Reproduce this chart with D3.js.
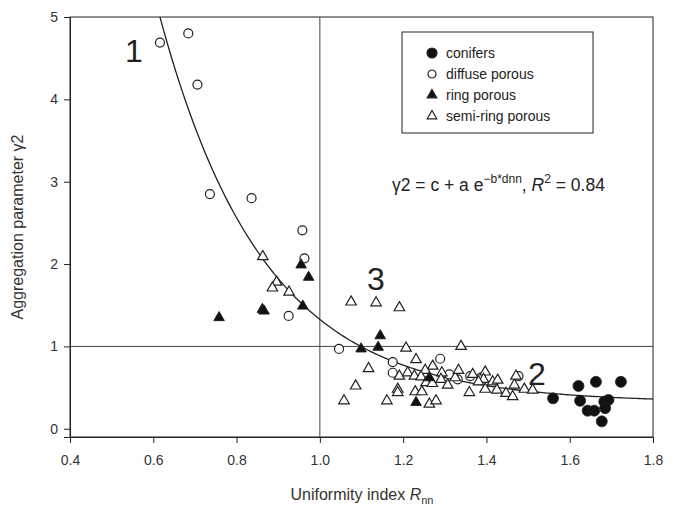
<!DOCTYPE html>
<html>
<head>
<meta charset="utf-8">
<script src="https://cdn.jsdelivr.net/npm/d3@7/dist/d3.min.js"></script>
<style>
  body { margin: 0; background: #fff; }
  svg { font-family: "Liberation Sans", Arial, sans-serif; }
</style>
</head>
<body>
<div id="chart-container" style="width:676px;height:510px;"></div>
<script>
// --- Data (Rnn, gamma2) ---
const conifers = [[1.560,0.37],[1.621,0.52],[1.663,0.57],[1.723,0.57],[1.625,0.34],[1.643,0.22],
  [1.659,0.22],[1.677,0.09],[1.683,0.33],[1.693,0.35],[1.685,0.25]];
const diffusePorous = [[0.616,4.69],[0.684,4.80],[0.706,4.18],[0.736,2.85],[0.836,2.80],[0.958,2.41],
  [0.963,2.07],[0.925,1.37],[1.046,0.97],[1.175,0.81],[1.175,0.68],[1.289,0.85],[1.311,0.66],
  [1.331,0.60],[1.361,0.64],[1.387,0.62],[1.477,0.64]];
const ringPorous = [[0.758,1.35],[0.862,1.45],[0.866,1.43],[0.955,1.99],[0.973,1.84],[0.959,1.49],
  [1.099,0.97],[1.140,0.99],[1.145,1.13],[1.263,0.62],[1.231,0.32]];
const semiRingPorous = [[0.863,2.09],[0.896,1.78],[0.886,1.71],[0.926,1.66],[1.075,1.54],[1.135,1.53],
  [1.191,1.47],[1.207,0.98],[1.339,1.00],[1.231,0.84],[1.271,0.76],[1.117,0.73],[1.086,0.52],
  [1.058,0.34],[1.161,0.34],[1.191,0.64],[1.211,0.68],[1.227,0.64],[1.253,0.71],[1.243,0.63],
  [1.255,0.56],[1.270,0.55],[1.293,0.68],[1.291,0.60],[1.307,0.53],[1.325,0.62],[1.187,0.48],
  [1.187,0.44],[1.229,0.45],[1.245,0.45],[1.263,0.30],[1.279,0.34],[1.333,0.71],[1.367,0.66],
  [1.397,0.69],[1.393,0.60],[1.381,0.57],[1.359,0.44],[1.397,0.48],[1.415,0.57],[1.427,0.59],
  [1.425,0.47],[1.447,0.43],[1.463,0.39],[1.467,0.53],[1.471,0.64],[1.491,0.48],[1.511,0.47]];

// fitted curve gamma2 = c + a*exp(-b*Rnn)
const fit = { a: 55, b: 4.0, c: 0.32 };

const xTicks = [0.4, 0.6, 0.8, 1.0, 1.2, 1.4, 1.6, 1.8];
const yTicks = [0, 1, 2, 3, 4, 5];

// --- Configuration ---
const width = 676, height = 510;
const margin = { top: 17, right: 23, bottom: 73, left: 70 };

const svg = d3.select("#chart-container").append("svg")
  .attr("width", width).attr("height", height);

const x = d3.scaleLinear().domain([0.4, 1.8]).range([margin.left, width - margin.right]);
const y = d3.scaleLinear().domain([-0.1, 5]).range([height - margin.bottom, margin.top]);

const ink = "#222";

svg.append("clipPath").attr("id", "plot-clip")
  .append("rect")
  .attr("x", x(0.4)).attr("y", y(5))
  .attr("width", x(1.8) - x(0.4)).attr("height", y(-0.1) - y(5));

// --- Frame ---
svg.append("rect")
  .attr("x", x(0.4)).attr("y", y(5))
  .attr("width", x(1.8) - x(0.4)).attr("height", y(-0.1) - y(5))
  .attr("fill", "none").attr("stroke", ink).attr("stroke-width", 1);

// reference lines at Rnn = 1 and gamma2 = 1
svg.append("line")
  .attr("x1", x(1)).attr("x2", x(1)).attr("y1", y(5)).attr("y2", y(-0.1))
  .attr("stroke", "#444").attr("stroke-width", 1);
svg.append("line")
  .attr("x1", x(0.4)).attr("x2", x(1.8)).attr("y1", y(1)).attr("y2", y(1))
  .attr("stroke", "#444").attr("stroke-width", 1);

// --- Axes ---
const xAxis = svg.append("g")
  .attr("transform", `translate(0,${y(-0.1)})`)
  .call(d3.axisBottom(x).tickValues(xTicks).tickFormat(d3.format(".1f")).tickSize(6).tickPadding(12));
const yAxis = svg.append("g")
  .attr("transform", `translate(${x(0.4)},0)`)
  .call(d3.axisLeft(y).tickValues(yTicks).tickFormat(d3.format("d")).tickSize(6).tickPadding(6));

[xAxis, yAxis].forEach(g => {
  g.select(".domain").attr("stroke", ink);
  g.selectAll(".tick line").attr("stroke", ink);
  g.selectAll("text").attr("fill", "#333").attr("font-size", "14px")
    .attr("font-family", "'Liberation Sans', Arial, sans-serif");
});

// axis titles
const xTitle = svg.append("text")
  .attr("x", 362).attr("y", 500)
  .attr("text-anchor", "middle").attr("font-size", "16px").attr("fill", "#333");
xTitle.append("tspan").text("Uniformity index ");
xTitle.append("tspan").attr("font-style", "italic").text("R");
xTitle.append("tspan").attr("font-size", "11px").attr("dy", 4).text("nn");

svg.append("text")
  .attr("transform", `translate(23,${(y(5) + y(-0.1)) / 2}) rotate(-90)`)
  .attr("text-anchor", "middle").attr("font-size", "16px").attr("fill", "#333")
  .text("Aggregation parameter γ2");

// --- Fitted curve ---
const curveXs = d3.range(0.55, 1.8001, 0.005);
svg.append("path")
  .datum(curveXs)
  .attr("clip-path", "url(#plot-clip)")
  .attr("fill", "none").attr("stroke", ink).attr("stroke-width", 1.3)
  .attr("d", d3.line().x(d => x(d)).y(d => y(fit.c + fit.a * Math.exp(-fit.b * d))));

// --- Markers ---
const tri = d3.symbol().type(d3.symbolTriangle).size(48);
const marks = svg.append("g");

marks.selectAll(".diffuse").data(diffusePorous).enter().append("circle")
  .attr("cx", d => x(d[0])).attr("cy", d => y(d[1])).attr("r", 4.5)
  .attr("fill", "#fff").attr("stroke", ink).attr("stroke-width", 1.2);

marks.selectAll(".semi").data(semiRingPorous).enter().append("path")
  .attr("d", tri).attr("transform", d => `translate(${x(d[0])},${y(d[1])})`)
  .attr("fill", "#fff").attr("stroke", ink).attr("stroke-width", 1.2);

marks.selectAll(".ring").data(ringPorous).enter().append("path")
  .attr("d", tri).attr("transform", d => `translate(${x(d[0])},${y(d[1])})`)
  .attr("fill", "#111").attr("stroke", ink).attr("stroke-width", 1);

marks.selectAll(".conifer").data(conifers).enter().append("circle")
  .attr("cx", d => x(d[0])).attr("cy", d => y(d[1])).attr("r", 5.5)
  .attr("fill", "#111").attr("stroke", ink).attr("stroke-width", 0.8);

// --- Region labels ---
const regionLabels = [
  { t: "1", px: 134, py: 62 },
  { t: "3", px: 376, py: 290 },
  { t: "2", px: 537, py: 385 }
];
svg.selectAll(".region").data(regionLabels).enter().append("text")
  .attr("x", d => d.px).attr("y", d => d.py)
  .attr("text-anchor", "middle").attr("font-size", "32px").attr("fill", "#222")
  .text(d => d.t);

// --- Equation ---
const eq = svg.append("text")
  .attr("x", 392).attr("y", 191).attr("font-size", "17.5px").attr("fill", "#222");
eq.append("tspan").text("γ2 = c + a e");
eq.append("tspan").attr("font-size", "12px").attr("dy", -8).text("−b*dnn");
eq.append("tspan").attr("dy", 8).text(", ");
eq.append("tspan").attr("font-style", "italic").text("R");
eq.append("tspan").attr("font-size", "12px").attr("dy", -8).text("2");
eq.append("tspan").attr("dy", 8).text(" = 0.84");

// --- Legend ---
const legendItems = [
  { label: "conifers", kind: "circle", fill: "#111" },
  { label: "diffuse porous", kind: "circle", fill: "#fff" },
  { label: "ring porous", kind: "tri", fill: "#111" },
  { label: "semi-ring porous", kind: "tri", fill: "#fff" }
];
const legendG = svg.append("g");
legendG.append("rect")
  .attr("x", 402).attr("y", 32).attr("width", 191).attr("height", 101)
  .attr("fill", "#fff").attr("stroke", ink).attr("stroke-width", 1);
const rows = legendG.selectAll(".row").data(legendItems).enter().append("g")
  .attr("transform", (d, i) => `translate(432,${53 + i * 21})`);
rows.filter(d => d.kind === "circle").append("circle")
  .attr("r", (d, i) => d.fill === "#111" ? 5 : 4)
  .attr("fill", d => d.fill).attr("stroke", ink).attr("stroke-width", 1.2);
rows.filter(d => d.kind === "tri").append("path")
  .attr("d", d3.symbol().type(d3.symbolTriangle).size(40))
  .attr("fill", d => d.fill).attr("stroke", ink).attr("stroke-width", 1.2);
rows.append("text")
  .attr("x", 14).attr("y", 5).attr("font-size", "14px").attr("fill", "#222")
  .text(d => d.label);
</script>
</body>
</html>
